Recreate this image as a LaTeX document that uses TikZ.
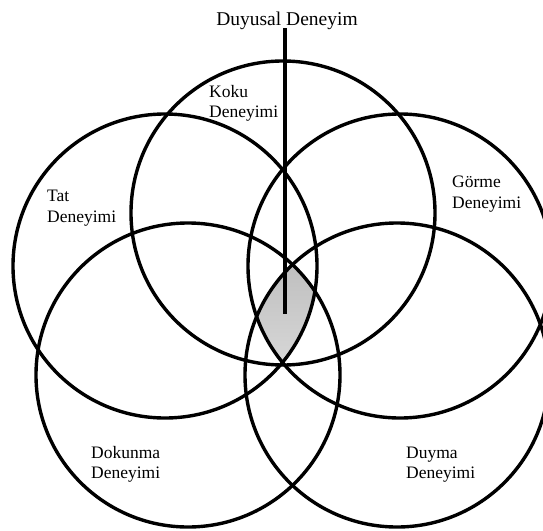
\documentclass[tikz,border=0pt]{standalone}
\usepackage{fontspec}
\setmainfont{Liberation Serif}
\definecolor{shade}{RGB}{128,128,128}
\begin{document}
\begin{tikzpicture}[x=1pt,y=-1pt,
  ring/.style={draw=black, line width=3.4pt},
  axisline/.style={draw=black, line width=3.6pt},
  lbl/.style={anchor=base west, inner sep=0pt, font=\fontsize{17.5}{21}\selectfont},
  ttl/.style={anchor=base, inner sep=0pt, font=\fontsize{19.5}{24}\selectfont}]
\useasboundingbox (0,0) rectangle (543,530);
\clip (0,0) rectangle (543,530);

% circle centres
\coordinate (koku)    at (283,213);
\coordinate (tat)     at (165,266);
\coordinate (gorme)   at (400,266);
\coordinate (dokunma) at (188,375);
\coordinate (duyma)   at (397,375);

% common region of all five circles
\begin{scope}
  \clip (koku) circle[radius=152];
  \clip (tat) circle[radius=152];
  \clip (gorme) circle[radius=152];
  \clip (dokunma) circle[radius=152];
  \clip (duyma) circle[radius=152];
  \fill[shade] (0,0) rectangle (543,530);
\end{scope}

% the five circles
\foreach \c in {koku,tat,gorme,dokunma,duyma}
  \draw[ring] (\c) circle[radius=152];

% title and axis line
\node[ttl] (title) at (287,25) {Duyusal Deneyim};
\coordinate (axisTop) at (285,28);
\coordinate (axisEnd) at (285,314);
\draw[axisline] (axisTop) -- (axisEnd);

% labels
\node[lbl] (kokuA) at (209,97) {Koku};
\node[lbl] (kokuB) at (209,117) {Deneyimi};
\node[lbl] (tatA) at (47,201) {Tat};
\node[lbl] (tatB) at (47,222) {Deneyimi};
\node[lbl] (gormeA) at (452,187) {Görme};
\node[lbl] (gormeB) at (452,208) {Deneyimi};
\node[lbl] (dokunmaA) at (91,458) {Dokunma};
\node[lbl] (dokunmaB) at (91,478) {Deneyimi};
\node[lbl] (duymaA) at (406,458) {Duyma};
\node[lbl] (duymaB) at (406,478) {Deneyimi};
\end{tikzpicture}
\end{document}
